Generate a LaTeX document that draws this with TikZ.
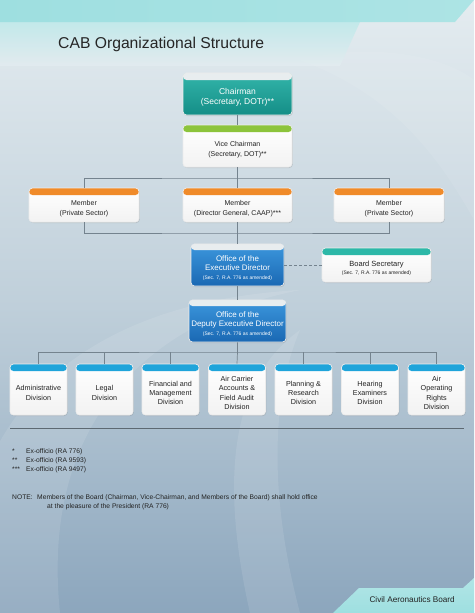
\documentclass[tikz,border=0pt]{standalone}
\usepackage{fontspec}
\setmainfont{Liberation Sans}
\usetikzlibrary{shadows}
\definecolor{bgtop}{HTML}{E4ECF0}
\definecolor{bgmid}{HTML}{BFCFDA}
\definecolor{bgbot}{HTML}{8CA6BD}
\definecolor{bandc}{HTML}{9EDFE0}
\definecolor{tealtop}{HTML}{33B5AA}
\definecolor{tealbot}{HTML}{148E87}
\definecolor{bluetop}{HTML}{3C97DD}
\definecolor{bluebot}{HTML}{1A68B3}
\definecolor{greenstrip}{HTML}{8CC43C}
\definecolor{orangestrip}{HTML}{F08B2A}
\definecolor{tealstrip}{HTML}{2DB8A8}
\definecolor{divstrip}{HTML}{1FA4DA}
\definecolor{graystrip}{HTML}{E8EDEF}
\definecolor{linec}{HTML}{74838E}
\definecolor{txtc}{HTML}{222222}
\tikzset{
  box/.style={rounded corners=3.5pt, draw=white!85!gray, line width=0.7pt,
    drop shadow={opacity=0.25, shadow xshift=0.8pt, shadow yshift=-1pt}},
  strip/.style 2 args={path picture={\fill[#1] (path picture bounding box.north west) rectangle ([yshift=-#2]path picture bounding box.north east);}},
  whitebody/.style={top color=white, bottom color=white!90!gray},
  tealbody/.style={top color=tealtop, bottom color=tealbot},
  bluebody/.style={top color=bluetop, bottom color=bluebot},
  conn/.style={draw=linec, line width=0.7pt},
  wtxt/.style={text=white, align=center, inner sep=0pt},
  dtxt/.style={text=txtc, align=center, inner sep=0pt},
}
\newcommand{\fs}[2]{\fontsize{#1}{#2}\selectfont}
\begin{document}
\begin{tikzpicture}[x=1pt,y=-1pt]
\useasboundingbox (0,0) rectangle (474,613);
% background
\shade[top color=bgtop, bottom color=bgbot, middle color=bgmid] (0,0) rectangle (474,613);
% decorative swooshes
\fill[white, opacity=0.10] (-40,613) .. controls (-40,380) and (120,300) .. (300,290) .. controls (150,320) and (40,420) .. (60,613) -- cycle;
\fill[white, opacity=0.10] (250,613) .. controls (220,480) and (230,380) .. (300,330) .. controls (270,400) and (270,500) .. (300,613) -- cycle;
\fill[white, opacity=0.08] (300,60) .. controls (380,40) and (450,60) .. (474,80) -- (474,220) .. controls (430,140) and (380,90) .. (300,60) -- cycle;
% title area
\shade[top color=bandc!70, bottom color=bgtop, opacity=0.8] (0,22) -- (360,22) -- (340,66) -- (0,66) -- cycle;
% top band
\shade[left color=bandc, right color=bandc!85!white] (0,0) -- (474,0) -- (455,22) -- (0,22) -- cycle;
% footer tab
\shade[top color=bandc!80!white, bottom color=bandc] (333,613) -- (359,588) -- (463,588) -- (474,578) -- (474,613) -- cycle;
\node[dtxt, anchor=east, font=\fs{8.2}{10}] (footer) at (455,600) {Civil Aeronautics Board};
% title
\node[dtxt, anchor=west, font=\fs{15.7}{18}, text=black!85] (title) at (58,44) {CAB Organizational Structure};

% boxes
\node[box, tealbody, strip={graystrip}{7pt}, minimum width=109pt, minimum height=42pt] (ch) at (237.5,94) {};
\node[wtxt, font=\fs{8.5}{10.5}] (chT) at ([yshift=-3.5pt]ch.center) {Chairman\\(Secretary, DOTr)**};

\node[box, whitebody, strip={greenstrip}{7pt}, minimum width=109pt, minimum height=42pt] (vc) at (237.5,146) {};
\node[dtxt, font=\fs{7}{9.5}] (vcT) at ([yshift=-3.5pt]vc.center) {Vice Chairman\\(Secretary, DOT)**};

\node[box, whitebody, strip={orangestrip}{7pt}, minimum width=110pt, minimum height=34pt] (m1) at (84,205) {};
\node[dtxt, font=\fs{7}{9.5}] (m1T) at ([yshift=-3.5pt]m1.center) {Member\\(Private Sector)};
\node[box, whitebody, strip={orangestrip}{7pt}, minimum width=109pt, minimum height=34pt] (m2) at (237.5,205) {};
\node[dtxt, font=\fs{7}{9.5}] (m2T) at ([yshift=-3.5pt]m2.center) {Member\\(Director General, CAAP)***};
\node[box, whitebody, strip={orangestrip}{7pt}, minimum width=110pt, minimum height=34pt] (m3) at (389,205) {};
\node[dtxt, font=\fs{7}{9.5}] (m3T) at ([yshift=-3.5pt]m3.center) {Member\\(Private Sector)};

\node[box, bluebody, strip={graystrip}{6pt}, minimum width=93pt, minimum height=42pt] (ed) at (237.5,265) {};
\node[wtxt, font=\fs{8}{9.3}] (edT) at ([yshift=-3pt]ed.center) {Office of the\\Executive Director\\[-1pt]{\fs{5}{6}(Sec. 7, R.A. 776 as amended)}};

\node[box, whitebody, strip={tealstrip}{7pt}, minimum width=109pt, minimum height=34pt] (bs) at (376.5,265) {};
\node[dtxt, font=\fs{7.5}{8}] (bsT) at ([yshift=-3pt]bs.center) {Board Secretary\\{\fs{5}{6}(Sec. 7, R.A. 776 as amended)}};

\node[box, bluebody, strip={graystrip}{6pt}, minimum width=97pt, minimum height=42pt] (dd) at (237.5,321) {};
\node[wtxt, font=\fs{8}{9.3}] (ddT) at ([yshift=-3pt]dd.center) {Office of the\\Deputy Executive Director\\[-1pt]{\fs{5}{6}(Sec. 7, R.A. 776 as amended)}};

% divisions
\foreach \n/\x/\t in {1/38.5/{Administrative\\Division},
                      2/104.5/{Legal\\Division},
                      3/170.5/{Financial and\\Management\\Division},
                      4/237/{Air Carrier\\Accounts \&\\Field Audit\\Division},
                      5/303.5/{Planning \&\\Research\\Division},
                      6/370/{Hearing\\Examiners\\Division},
                      7/436.5/{Air\\Operating\\Rights\\Division}}{
  \node[box, whitebody, strip={divstrip}{7pt}, minimum width=57pt, minimum height=51pt] (d\n) at (\x,389.5) {};
  \node[dtxt, font=\fs{7.2}{9.2}] (d\n T) at ([yshift=-3.5pt]d\n.center) {\t};
}

% connectors
\coordinate (b1) at (237.5,178);
\coordinate (b2) at (237.5,233);
\coordinate (b3) at (237.5,352);
\draw[conn] (ch.south) -- (vc.north);
\draw[conn] (vc.south) -- (b1) -- (m2.north);
\draw[conn] (m1.north) |- (b1) -| (m3.north);
\draw[conn] (m1.south) |- (b2) -| (m3.south);
\draw[conn] (m2.south) -- (ed.north);
\draw[conn, dashed, dash pattern=on 3pt off 2pt] (ed.east |- bs.west) -- (bs.west);
\draw[conn] (ed.south) -- (dd.north);
\draw[conn] (dd.south) -- (b3) -- (d4.north);
\draw[conn] (d1.north) |- (b3) -| (d7.north);
\foreach \n in {2,3,5,6}{ \draw[conn] (d\n.north) -- (d\n.north |- b3); }

% separator
\coordinate (s1) at (10,428);
\coordinate (s2) at (464,428);
\draw[draw=linec!80!black, line width=0.8pt] (s1) -- (s2);

% footnotes
\begin{scope}[every node/.style={dtxt, anchor=base west, font=\fs{6.7}{8}}]
\node (f1a) at (12,453) {*};
\node (f1b) at (26,453) {Ex-officio (RA 776)};
\node (f2a) at (12,462) {**};
\node (f2b) at (26,462) {Ex-officio (RA 9593)};
\node (f3a) at (12,471) {***};
\node (f3b) at (26,471) {Ex-officio (RA 9497)};
\node (n1) at (12,499) {NOTE:};
\node (n2) at (37,499) {Members of the Board (Chairman, Vice-Chairman, and Members of the Board) shall hold office};
\node (n3) at (47,508) {at the pleasure of the President (RA 776)};
\end{scope}
\end{tikzpicture}
\end{document}
